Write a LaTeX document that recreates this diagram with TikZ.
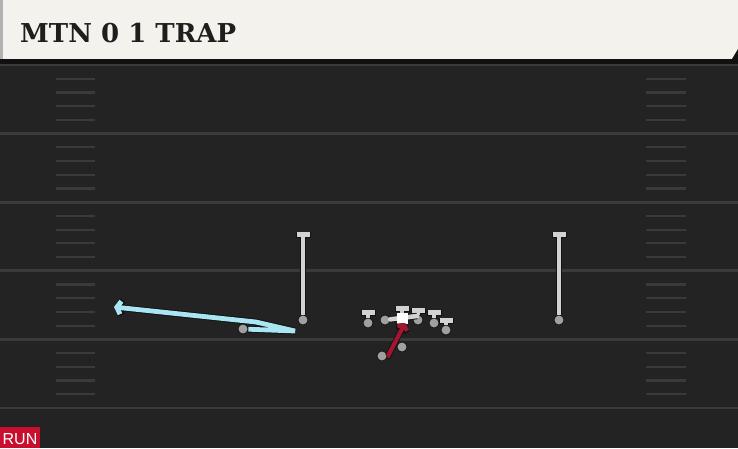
\documentclass[tikz,border=0pt]{standalone}
\usepackage{fontspec}
\usetikzlibrary{arrows.meta, positioning, calc}
\newfontfamily\titlefont{DejaVu Serif Bold}
\newfontfamily\tagfont{Liberation Sans}
\definecolor{turf}{HTML}{232323}
\definecolor{stripe}{HTML}{3A3A3A}
\definecolor{banner}{HTML}{F4F2EC}
\definecolor{ink}{HTML}{1E1E1E}
\definecolor{dotgray}{HTML}{A0A0A0}
\definecolor{routegray}{HTML}{D2D2D2}
\definecolor{motion}{HTML}{A9E5F2}
\definecolor{runred}{HTML}{A3162F}
\definecolor{tagred}{HTML}{C8102E}
\definecolor{outline}{HTML}{111111}
\tikzset{>=Stealth}

\begin{document}
\begin{tikzpicture}[x=1pt,y=-1pt,
    player/.style={circle,fill=dotgray,draw=outline,line width=0.7pt,inner sep=0pt,minimum size=10pt},
    centre/.style={rectangle,fill=white,inner sep=0pt,minimum size=11pt},
    block/.style={line width=4.6pt,draw=routegray,-{Bar[width=13pt]},
        preaction={draw=outline,line width=6.4pt,-{Bar[width=15pt]}}},
    pull/.style={line width=4.6pt,draw=routegray,line cap=round,
        preaction={draw=outline,line width=6.4pt}},
    motionroute/.style={line width=4.8pt,draw=motion,-{Straight Barb[length=4pt,width=13pt]},
        preaction={draw=outline,line width=6.6pt,-{Straight Barb[length=4.5pt,width=14.5pt]}}},
    carry/.style={line width=4.2pt,draw=runred,-{Straight Barb[length=3.5pt,width=11pt]},
        preaction={draw=outline,line width=5.8pt,-{Straight Barb[length=4pt,width=12.5pt]}}}
]
    \useasboundingbox (0,0) rectangle (738,448);
    % field
    \fill[turf] (0,59) rectangle (738,448);
    \foreach \k in {0,...,5}{
        \draw[stripe,line width=2.8pt] (0,65+68.6*\k) -- (738,65+68.6*\k);
    }
    \foreach \k in {0,...,4}{
        \foreach \j in {1,...,4}{
            \draw[stripe,line width=2.2pt] (56,65+68.6*\k+13.7*\j) -- (95,65+68.6*\k+13.7*\j);
            \draw[stripe,line width=2.2pt] (646,65+68.6*\k+13.7*\j) -- (686,65+68.6*\k+13.7*\j);
        }
    }
    % header
    \fill[outline] (0,58) rectangle (738,64);
    \fill[banner] (0,0) rectangle (738,59);
    \fill[gray!60] (0,0) rectangle (3,59);
    \fill[outline] (732,59) -- (738,49) -- (738,59) -- cycle;
    \node[anchor=base west,inner sep=0pt,text=ink,font=\titlefont\fontsize{26}{26}\selectfont] (title) at (20,42) {MTN 0 1 TRAP};

    % players
    \node[player] (WRL) at (303,320) {};
    \node[player] (WRR) at (559,320) {};
    \node[player] (LT)  at (368,323) {};
    \node[player] (LG)  at (385,320) {};
    \node[player] (RG)  at (418,320) {};
    \node[player] (RT)  at (434,323) {};
    \node[player] (TE)  at (446,330) {};
    \node[player] (QB)  at (402,347) {};
    \node[player] (RB)  at (382,356) {};
    \node[player] (M)   at (243,329) {};

    \coordinate (WRLx) at (303,232);
    \coordinate (WRRx) at (559,232);
    \coordinate (LTx)  at (368,310);
    \coordinate (LGx)  at (417,316);
    \coordinate (Cx)   at (402,306);
    \coordinate (RGx)  at (418,308);
    \coordinate (RTx)  at (434,310);
    \coordinate (TEx)  at (446,318);
    \coordinate (RBa)  at (388,356);
    \coordinate (RBx)  at (405,323);
    \coordinate (Ma)   at (295,331);
    \coordinate (Mb)   at (256,322);
    \coordinate (Mx)   at (114,307);

    \draw[block] (WRL) -- (WRLx);
    \draw[block] (WRR) -- (WRRx);
    \draw[block] (LT) -- (LTx);
    \draw[block] (RG) -- (RGx);
    \draw[block] (RT) -- (RTx);
    \draw[block] (TE) -- (TEx);
    \draw[pull] (LG) -- (LGx);
    \draw[block] (402,313) -- (Cx);
    \node[centre] (C) at (402,318) {};
    \draw[motionroute] (M) -- (Ma) -- (Mb) -- (Mx);
    \draw[carry] (RB) -- (RBa) -- (RBx);

    % tag
    \fill[tagred] (0,427) rectangle (40,448);
    \node[anchor=base,inner sep=0pt,text=white,font=\tagfont\fontsize{16}{16}\selectfont] (tag) at (20,444.5) {RUN};
\end{tikzpicture}
\end{document}
